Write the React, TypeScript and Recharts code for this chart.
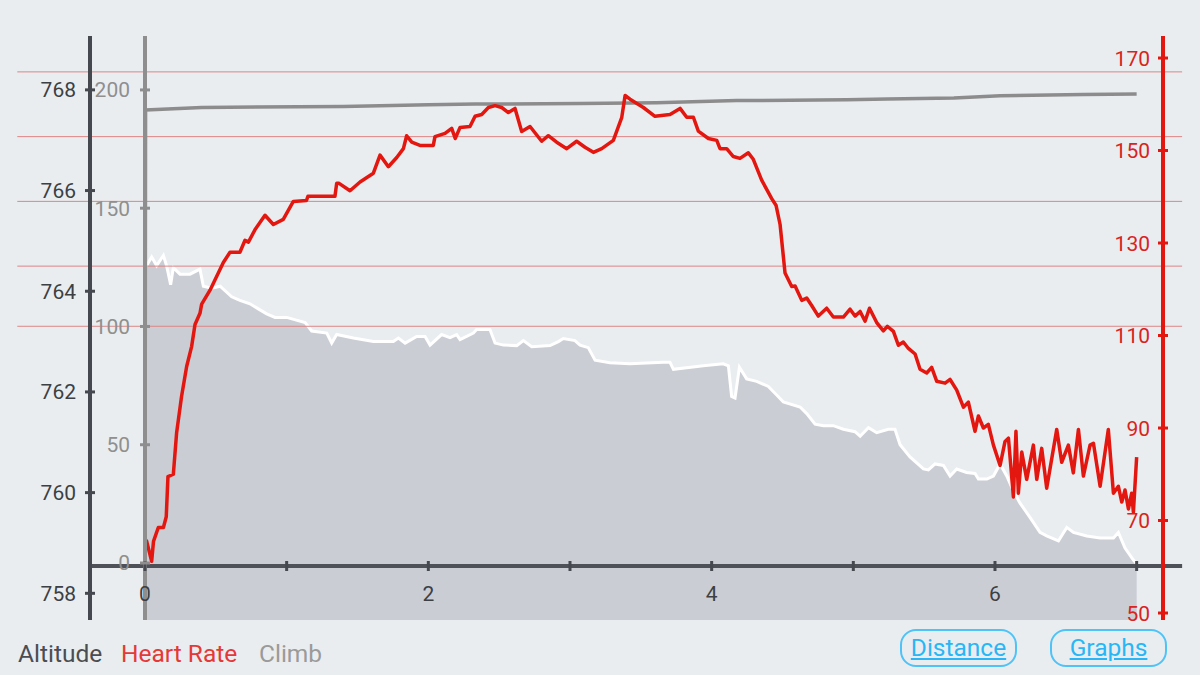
import React from "react";
import { ComposedChart, Area, Line, XAxis, YAxis, ReferenceLine } from "recharts";

// heart rate samples (distance km / bpm)
const hrKm = [
  0, 0.012, 0.047, 0.06, 0.094, 0.13, 0.15, 0.162, 0.2, 0.223, 0.258, 0.294, 0.329, 0.353, 0.388, 0.4,
  0.459, 0.553, 0.6, 0.67, 0.706, 0.73, 0.777, 0.847, 0.906, 0.976, 1.047, 1.14, 1.15, 1.341, 1.353, 1.37,
  1.447, 1.518, 1.612, 1.659, 1.718, 1.777, 1.824, 1.847, 1.883, 1.941, 2.035, 2.047, 2.118, 2.165, 2.19,
  2.224, 2.294, 2.33, 2.377, 2.424, 2.471, 2.518, 2.565, 2.612, 2.659, 2.718, 2.8, 2.847, 2.906, 2.977,
  3.047, 3.106, 3.165, 3.224, 3.306, 3.365, 3.389, 3.424, 3.518, 3.6, 3.706, 3.777, 3.824, 3.871, 3.906,
  3.977, 4.036, 4.059, 4.106, 4.153, 4.2, 4.259, 4.294, 4.353, 4.424, 4.455, 4.483, 4.518, 4.565, 4.589,
  4.636, 4.671, 4.706, 4.753, 4.812, 4.859, 4.93, 4.977, 5.012, 5.048, 5.083, 5.114, 5.165, 5.212, 5.24,
  5.283, 5.318, 5.353, 5.389, 5.436, 5.471, 5.518, 5.553, 5.589, 5.648, 5.683, 5.73, 5.777, 5.812, 5.859,
  5.883, 5.918, 5.953, 5.989, 6.036, 6.071, 6.095, 6.13, 6.148, 6.165, 6.189, 6.224, 6.271, 6.295, 6.33,
  6.365, 6.436, 6.471, 6.518, 6.553, 6.589, 6.624, 6.671, 6.695, 6.742, 6.8, 6.836, 6.871, 6.895, 6.918,
  6.942, 6.965, 6.977, 7.0,
];
const hrBpm = [
  66, 65.5, 61.2, 65.5, 68.5, 68.5, 70.8, 79.5, 80, 88.9, 96.8, 103.3, 107.6, 112.4, 114.8, 116.8,
  119.8, 125.8, 128, 128, 130.6, 130.2, 132.9, 136, 134, 135.1, 139, 139.2, 140.1, 140.1, 142.9, 142.9,
  141.3, 143.2, 145.1, 149, 146.5, 148.5, 150.4, 153.2, 151.8, 151.1, 151.1, 153, 153.7, 154.8, 152.6,
  155, 155.2, 157.4, 157.8, 159.3, 159.7, 159.3, 158.2, 159.1, 154.1, 155.2, 152, 153.2, 151.8, 150.4,
  152, 150.7, 149.6, 150.4, 152.2, 157.1, 161.9, 161.1, 159.3, 157.4, 157.8, 159.1, 157.2, 157.2, 154.2,
  152.6, 152.2, 150.4, 150.4, 148.7, 148.3, 149.5, 148.1, 143.6, 139.6, 138.1, 134, 123.5, 120.6, 120.7,
  117.6, 118.1, 116.5, 114.2, 115.9, 114, 114, 115.7, 114.2, 115.2, 113.1, 115.9, 112.8, 111, 112,
  110.9, 107.9, 108.6, 107.2, 106, 102.7, 101.9, 103.1, 100.1, 99.7, 100.5, 98.2, 94.5, 95.6, 89.3,
  92.6, 90, 90.8, 86.3, 81.9, 87.1, 87.8, 75.1, 89.3, 75.9, 84.8, 78.9, 86.3, 78.9, 85.6,
  77, 89.7, 82.6, 86.3, 80.3, 89.7, 79.6, 86.3, 86.7, 77.4, 89.7, 75.9, 77.4, 74, 76.6,
  72.5, 75.9, 71.8, 83.7,
];

// altitude samples (km / m)
const altKm = [
  0, 0.004, 0.012, 0.047, 0.082, 0.13, 0.153, 0.181, 0.2, 0.247, 0.318, 0.388, 0.412, 0.471, 0.53, 0.612,
  0.67, 0.741, 0.8, 0.859, 0.918, 1.0, 1.13, 1.177, 1.283, 1.318, 1.353, 1.471, 1.612, 1.753, 1.789, 1.836,
  1.918, 1.977, 2.012, 2.094, 2.153, 2.2, 2.224, 2.318, 2.341, 2.435, 2.471, 2.53, 2.624, 2.671, 2.73,
  2.859, 2.918, 2.953, 3.035, 3.071, 3.129, 3.177, 3.282, 3.424, 3.659, 3.706, 3.73, 3.941, 4.082, 4.118,
  4.141, 4.165, 4.196, 4.247, 4.318, 4.4, 4.459, 4.506, 4.624, 4.671, 4.73, 4.789, 4.859, 4.93, 5.012,
  5.048, 5.107, 5.165, 5.247, 5.294, 5.33, 5.4, 5.495, 5.53, 5.577, 5.636, 5.683, 5.73, 5.8, 5.859, 5.883,
  5.942, 5.989, 6.036, 6.083, 6.13, 6.177, 6.247, 6.318, 6.365, 6.448, 6.507, 6.554, 6.648, 6.742, 6.836,
  6.871, 6.918, 6.977, 7.0,
];
const altM = [
  757.47, 764.5, 764.51, 764.68, 764.51, 764.71, 764.5, 764.13, 764.47, 764.34, 764.34, 764.44, 764.1, 764.06, 764.1, 763.89,
  763.82, 763.75, 763.65, 763.55, 763.48, 763.48, 763.38, 763.21, 763.17, 762.97, 763.14, 763.07, 763.0, 763.0, 763.07, 762.97,
  763.1, 763.1, 762.93, 763.14, 763.08, 763.14, 763.04, 763.17, 763.24, 763.24, 762.97, 762.93, 762.92, 763.02, 762.9,
  762.92, 763.0, 763.06, 763.02, 762.93, 762.88, 762.63, 762.58, 762.56, 762.59, 762.59, 762.45, 762.52, 762.56, 762.52,
  761.91, 761.88, 762.49, 762.26, 762.21, 762.11, 761.94, 761.8, 761.7, 761.57, 761.36, 761.33, 761.33, 761.26, 761.21,
  761.12, 761.29, 761.19, 761.26, 761.26, 760.95, 760.71, 760.47, 760.45, 760.57, 760.54, 760.33, 760.47, 760.4, 760.38, 760.27,
  760.27, 760.33, 760.57, 760.33, 760.03, 759.79, 759.51, 759.21, 759.14, 759.04, 759.31, 759.21, 759.14, 759.1, 759.1,
  759.21, 758.9, 758.66, 758.59,
];

// cumulative climb (km / m)
const climbKm = [0, 0.004, 0.4, 1.4, 2.0, 2.33, 3.07, 3.612, 4.176, 4.953, 5.24, 5.71, 6.036, 6.624, 7.0];
const climbM = [0, 191.5, 192.6, 193.0, 193.7, 194.0, 194.3, 194.6, 195.5, 195.8, 196.2, 196.6, 197.5, 198.1, 198.3];

const kmTicks = [0, 1, 2, 3, 4, 5, 6, 7];
const altTicks = [758, 760, 762, 764, 766, 768];
const climbTicks = [0, 50, 100, 150, 200];
const hrTicks = [50, 70, 90, 110, 130, 150, 170];
const hrZones = [167, 153, 139, 125, 112];

const hrData = hrKm.map((km, i) => ({ km, hr: hrBpm[i] }));
const altData = altKm.map((km, i) => ({ km, alt: altM[i] }));
const climbData = climbKm.map((km, i) => ({ km, climb: climbM[i] }));

const BG = "#e9edf0";
const RED = "#e3170f";
const GRAY = "#8c8c8c";
const DARK = "#45484e";
const FONT = "Roboto, 'Noto Sans', sans-serif";

const ALT_AXIS_X = 90;
const CLIMB_AXIS_X = 145;
const HR_AXIS_X = 1163;
const X_AXIS_Y = 566;

const makeYTick = (axisX: number, tickColor: string, textColor: string, gap: number) => (props: any) => {
  const { y, payload } = props;
  return (
    <g>
      <line x1={axisX - 5} x2={axisX + 5} y1={y} y2={y} stroke={tickColor} strokeWidth={3} />
      <text x={axisX - gap} y={y} dy={7.5} textAnchor="end" fill={textColor} fontSize={21} fontFamily={FONT}>
        {payload.value}
      </text>
    </g>
  );
};

const KmTick = (props: any) => {
  const { x, payload } = props;
  return (
    <g>
      <line x1={x} x2={x} y1={X_AXIS_Y - 5} y2={X_AXIS_Y + 5} stroke={DARK} strokeWidth={3} />
      {payload.value % 2 === 0 && (
        <text x={x} y={X_AXIS_Y + 35} textAnchor="middle" fill="#3c3f44" fontSize={21} fontFamily={FONT}>
          {payload.value}
        </text>
      )}
    </g>
  );
};

const btn: React.CSSProperties = {
  position: "absolute",
  top: 629,
  width: 113,
  height: 34,
  border: "2px solid #4fc3f7",
  borderRadius: 16,
  color: "#29b6f6",
  fontSize: 24.5,
  lineHeight: "34px",
  textAlign: "center",
  textDecoration: "underline",
  fontFamily: FONT,
};

const legendText: React.CSSProperties = {
  position: "absolute",
  top: 642,
  fontSize: 24.5,
  lineHeight: "24px",
  fontFamily: FONT,
  whiteSpace: "nowrap",
};

export default function App() {
  return (
    <div style={{ position: "relative", width: 1200, height: 675, background: BG, overflow: "hidden" }}>
      <style>{`body{margin:0}`}</style>
      <ComposedChart width={1200} height={675} margin={{ top: 36, right: 0, bottom: 25, left: 0 }}>
        <XAxis
          dataKey="km"
          type="number"
          domain={[0, 7.186]}
          ticks={kmTicks}
          interval={0}
          allowDataOverflow
          axisLine={false}
          tickLine={false}
          height={30}
          tick={(p: any) => <KmTick {...p} />}
        />
        <YAxis
          yAxisId="elev"
          orientation="left"
          width={90}
          domain={[757.47, 769.07]}
          ticks={altTicks}
          allowDataOverflow
          axisLine={{ stroke: DARK, strokeWidth: 4 }}
          tickLine={false}
          tick={makeYTick(ALT_AXIS_X, DARK, "#3c3f44", 14)}
        />
        <YAxis
          yAxisId="climb"
          orientation="left"
          width={55}
          domain={[-24.1, 222.8]}
          ticks={climbTicks}
          allowDataOverflow
          axisLine={{ stroke: "#8e8e8e", strokeWidth: 4 }}
          tickLine={false}
          tick={makeYTick(CLIMB_AXIS_X, "#8e8e8e", "#8f8f8f", 15)}
        />
        <YAxis
          yAxisId="hr"
          orientation="right"
          width={37}
          domain={[48.49, 174.76]}
          ticks={hrTicks}
          allowDataOverflow
          axisLine={{ stroke: RED, strokeWidth: 4 }}
          tickLine={false}
          tick={makeYTick(HR_AXIS_X, RED, "#d9231d", 13)}
        />
        <Area
          yAxisId="elev"
          data={altData}
          dataKey="alt"
          type="linear"
          baseValue="dataMin"
          fill="#cacdd4"
          fillOpacity={1}
          stroke="#ffffff"
          strokeWidth={3}
          isAnimationActive={false}
          dot={false}
          activeDot={false}
        />
        {hrZones.map((z) => (
          <ReferenceLine
            key={z}
            yAxisId="hr"
            ifOverflow="visible"
            segment={[{ x: -0.9015, y: z }, { x: 7.321, y: z }]}
            stroke="#de8585"
            strokeWidth={1}
          />
        ))}
        <ReferenceLine
          yAxisId="climb"
          ifOverflow="visible"
          segment={[{ x: -0.388, y: -1.27 }, { x: 7.321, y: -1.27 }]}
          stroke="#4e5258"
          strokeWidth={4}
        />
        <Line
          yAxisId="climb"
          data={climbData}
          dataKey="climb"
          type="linear"
          stroke={GRAY}
          strokeWidth={3.5}
          dot={false}
          activeDot={false}
          isAnimationActive={false}
        />
        <Line
          yAxisId="hr"
          data={hrData}
          dataKey="hr"
          type="linear"
          stroke={RED}
          strokeWidth={3.5}
          strokeLinejoin="round"
          dot={false}
          activeDot={false}
          isAnimationActive={false}
        />
      </ComposedChart>
      <span style={{ ...legendText, left: 18, color: "#4a4d53" }}>Altitude</span>
      <span style={{ ...legendText, left: 121, color: "#e53935" }}>Heart Rate</span>
      <span style={{ ...legendText, left: 259, color: "#9a9a9a" }}>Climb</span>
      <div style={{ ...btn, left: 900 }}>Distance</div>
      <div style={{ ...btn, left: 1050 }}>Graphs</div>
    </div>
  );
}
